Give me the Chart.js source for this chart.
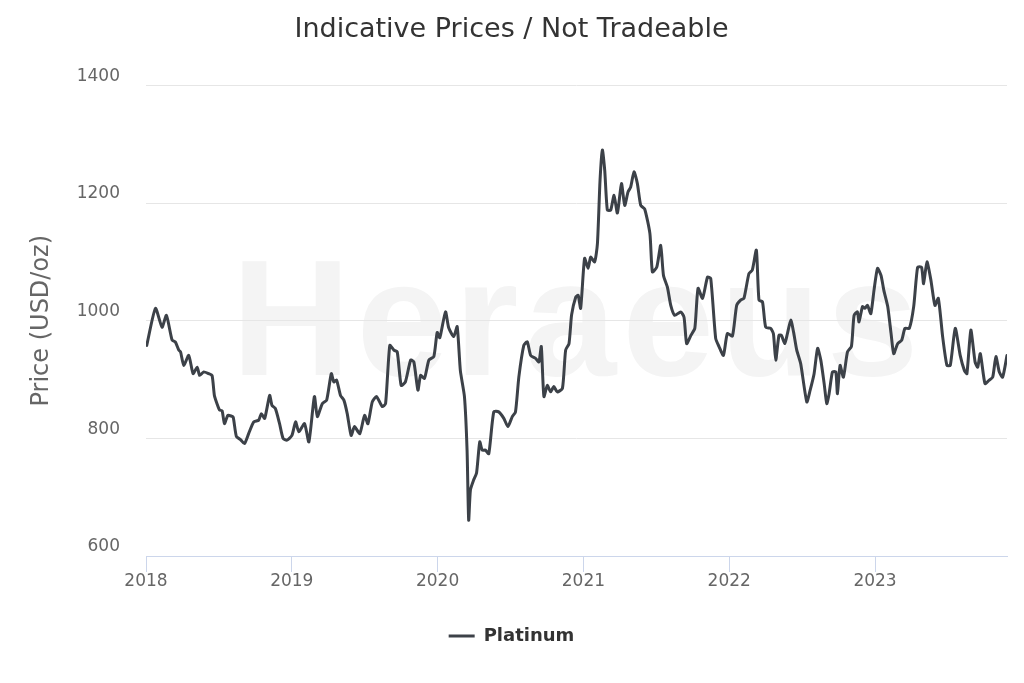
<!DOCTYPE html>
<html>
<head>
<meta charset="utf-8">
<title>Platinum price</title>
<script src="https://cdn.jsdelivr.net/npm/chart.js@4.4.1/dist/chart.umd.min.js"></script>
<style>
    html, body { margin: 0; padding: 0; background: #fff; }
</style>
</head>
<body>
<canvas id="priceChart" width="1024" height="683"></canvas>
<script>
const seriesName = "Platinum";

// decimal years
const dates = [
    2018.005, 2018.065, 2018.110, 2018.140, 2018.179, 2018.201, 2018.225, 2018.237, 2018.259, 2018.293, 2018.323, 2018.351, 2018.368, 2018.396, 2018.430, 2018.453, 2018.469, 2018.487, 2018.505, 2018.522, 2018.538, 2018.561, 2018.584, 2018.598, 2018.620, 2018.648, 2018.675, 2018.704, 2018.739, 2018.773, 2018.791, 2018.814, 2018.848, 2018.864, 2018.887, 2018.916, 2018.940, 2018.967, 2019.001,
    2019.026, 2019.048, 2019.087, 2019.117, 2019.155, 2019.175, 2019.209, 2019.239, 2019.271, 2019.288, 2019.307, 2019.334, 2019.357, 2019.380, 2019.407, 2019.430, 2019.466, 2019.499, 2019.522, 2019.552, 2019.581, 2019.620, 2019.643, 2019.672, 2019.700, 2019.723, 2019.750, 2019.779, 2019.815, 2019.837, 2019.865, 2019.883, 2019.910, 2019.940, 2019.974, 2019.997,
    2020.015, 2020.054, 2020.076, 2020.111, 2020.134, 2020.156, 2020.184, 2020.202, 2020.213, 2020.225, 2020.247, 2020.267, 2020.289, 2020.306, 2020.328, 2020.351, 2020.385, 2020.419, 2020.454, 2020.482, 2020.512, 2020.534, 2020.557, 2020.591, 2020.615, 2020.638, 2020.672, 2020.695, 2020.711, 2020.729, 2020.752, 2020.775, 2020.797, 2020.820, 2020.856, 2020.878, 2020.901, 2020.919, 2020.947, 2020.964, 2020.981,
    2021.008, 2021.032, 2021.050, 2021.077, 2021.096, 2021.114, 2021.130, 2021.146, 2021.164, 2021.187, 2021.210, 2021.233, 2021.261, 2021.283, 2021.306, 2021.324, 2021.347, 2021.370, 2021.393, 2021.420, 2021.456, 2021.473, 2021.503, 2021.530, 2021.549, 2021.576, 2021.599, 2021.626, 2021.667, 2021.690, 2021.708, 2021.737, 2021.764, 2021.786, 2021.817, 2021.851, 2021.873, 2021.907, 2021.930, 2021.960, 2021.987,
    2022.022, 2022.051, 2022.078, 2022.101, 2022.135, 2022.158, 2022.186, 2022.204, 2022.228, 2022.250, 2022.284, 2022.303, 2022.319, 2022.341, 2022.358, 2022.381, 2022.399, 2022.422, 2022.441, 2022.463, 2022.490, 2022.532, 2022.555, 2022.582, 2022.606, 2022.628, 2022.651, 2022.669, 2022.685, 2022.708, 2022.731, 2022.742, 2022.760, 2022.783, 2022.811, 2022.838, 2022.856, 2022.879, 2022.890, 2022.914, 2022.930, 2022.948, 2022.971, 2022.993,
    2023.017, 2023.041, 2023.060, 2023.087, 2023.110, 2023.128, 2023.155, 2023.183, 2023.205, 2023.235, 2023.265, 2023.292, 2023.319, 2023.333, 2023.356, 2023.383, 2023.411, 2023.434, 2023.464, 2023.493, 2023.516, 2023.550, 2023.584, 2023.612, 2023.630, 2023.657, 2023.686, 2023.704, 2023.722, 2023.754, 2023.783, 2023.807, 2023.829, 2023.852, 2023.875, 2023.905
];

// USD/oz
const prices = [
    958, 1021, 989, 1009, 967, 964, 950, 947, 924, 941, 910, 921, 907, 913, 910, 907, 873, 859, 848, 847, 825, 839, 838, 836, 803, 798, 791, 808, 828, 831, 842, 834, 873, 856, 851, 825, 800, 797, 805,
    828, 811, 825, 794, 871, 837, 859, 865, 910, 896, 899, 873, 865, 842, 805, 820, 808, 839, 825, 862, 871, 854, 859, 958, 950, 947, 890, 896, 933, 930, 882, 907, 902, 933, 939, 980,
    971, 1015, 988, 973, 990, 915, 871, 780, 661, 712, 729, 741, 794, 780, 780, 774, 845, 845, 834, 820, 837, 845, 904, 958, 964, 941, 936, 930, 956, 871, 890, 879, 888, 879, 885, 950, 961, 1010, 1040, 1043, 1021,
    1106, 1089, 1108, 1100, 1131, 1239, 1290, 1256, 1188, 1188, 1213, 1183, 1233, 1196, 1219, 1227, 1253, 1233, 1196, 1190, 1148, 1083, 1091, 1128, 1077, 1057, 1026, 1009, 1015, 1006, 961, 975, 987, 1055, 1038, 1074, 1072, 970, 956, 941, 978,
    974, 1026, 1035, 1038, 1080, 1086, 1120, 1035, 1032, 989, 987, 978, 933, 975, 975, 961, 978, 1001, 981, 950, 927, 862, 882, 910, 953, 933, 893, 859, 876, 913, 913, 876, 924, 904, 947, 956, 1009, 1015, 998, 1024, 1021, 1026, 1012, 1052,
    1089, 1077, 1052, 1024, 978, 944, 961, 967, 987, 987, 1024, 1091, 1091, 1063, 1100, 1069, 1026, 1038, 972, 924, 924, 987, 941, 916, 910, 984, 930, 921, 944, 893, 899, 904, 939, 913, 904, 941
];

const yearTicks = [2018, 2019, 2020, 2021, 2022, 2023];
const priceTicks = [600, 800, 1000, 1200, 1400];

Chart.defaults.font.family = '"DejaVu Sans", sans-serif';

// faint logo text behind the plot
const watermark = {
    id: "watermark",
    beforeDraw(chart) {
        const ctx = chart.ctx;
        ctx.save();
        ctx.font = 'bold 165px "Liberation Sans", Arial, sans-serif';
        ctx.letterSpacing = "6px";
        ctx.fillStyle = "#f4f4f4";
        ctx.textAlign = "center";
        ctx.textBaseline = "alphabetic";
        ctx.fillText("Heraeus", 578, 375);
        ctx.restore();
    }
};

const chart = document.getElementById("priceChart");

new Chart(chart, {
    type: "line",
    data: {
        datasets: [{
            label: seriesName,
            data: dates.map((d, i) => ({ x: d, y: prices[i] })),
            borderColor: "#3c4148",
            backgroundColor: "#3c4148",
            borderWidth: 3,
            pointRadius: 0,
            pointStyle: "line",
            tension: 0.2,
            borderJoinStyle: "round",
            borderCapStyle: "round",
            fill: false,
        }]
    },
    options: {
        responsive: false,
        animation: false,
        devicePixelRatio: 1,
        layout: {
            padding: { left: 16, right: 17, top: 0, bottom: 28 }
        },
        scales: {
            x: {
                type: "linear",
                min: yearTicks[0],
                max: dates[dates.length - 1],
                afterBuildTicks: (scale) => {
                    scale.ticks = yearTicks.map(v => ({ value: v }));
                },
                afterFit: (scale) => { scale.height = 61; },
                grid: {
                    drawOnChartArea: false,
                    drawTicks: true,
                    tickLength: 16,
                    color: "#ccd6eb",
                },
                border: { color: "#ccd6eb", width: 1 },
                ticks: {
                    color: "#666666",
                    font: { size: 17 },
                    padding: -1,
                    maxRotation: 0,
                    callback: (v) => String(v),
                },
            },
            y: {
                min: priceTicks[0],
                max: priceTicks[priceTicks.length - 1],
                afterBuildTicks: (scale) => {
                    scale.ticks = priceTicks.map(v => ({ value: v }));
                },
                afterFit: (scale) => { scale.width = 130; },
                grid: {
                    color: "#e6e6e6",
                    drawTicks: false,
                },
                border: { display: false },
                ticks: {
                    color: "#666666",
                    font: { size: 17 },
                    padding: 26,
                    labelOffset: -9,
                    callback: (v) => String(v),
                },
                title: {
                    display: true,
                    text: "Price (USD/oz)",
                    color: "#666666",
                    font: { size: 24 },
                    padding: { top: 11, bottom: 0 },
                },
            },
        },
        plugins: {
            title: {
                display: true,
                text: "Indicative Prices / Not Tradeable",
                color: "#333333",
                font: { size: 27, weight: "normal" },
                padding: { top: 14, bottom: 39 },
            },
            legend: {
                display: true,
                position: "bottom",
                labels: {
                    usePointStyle: true,
                    pointStyleWidth: 26,
                    color: "#333333",
                    font: { size: 18, weight: "bold" },
                    padding: 10,
                },
            },
            tooltip: { enabled: false },
        },
    },
    plugins: [watermark],
});
</script>
</body>
</html>
